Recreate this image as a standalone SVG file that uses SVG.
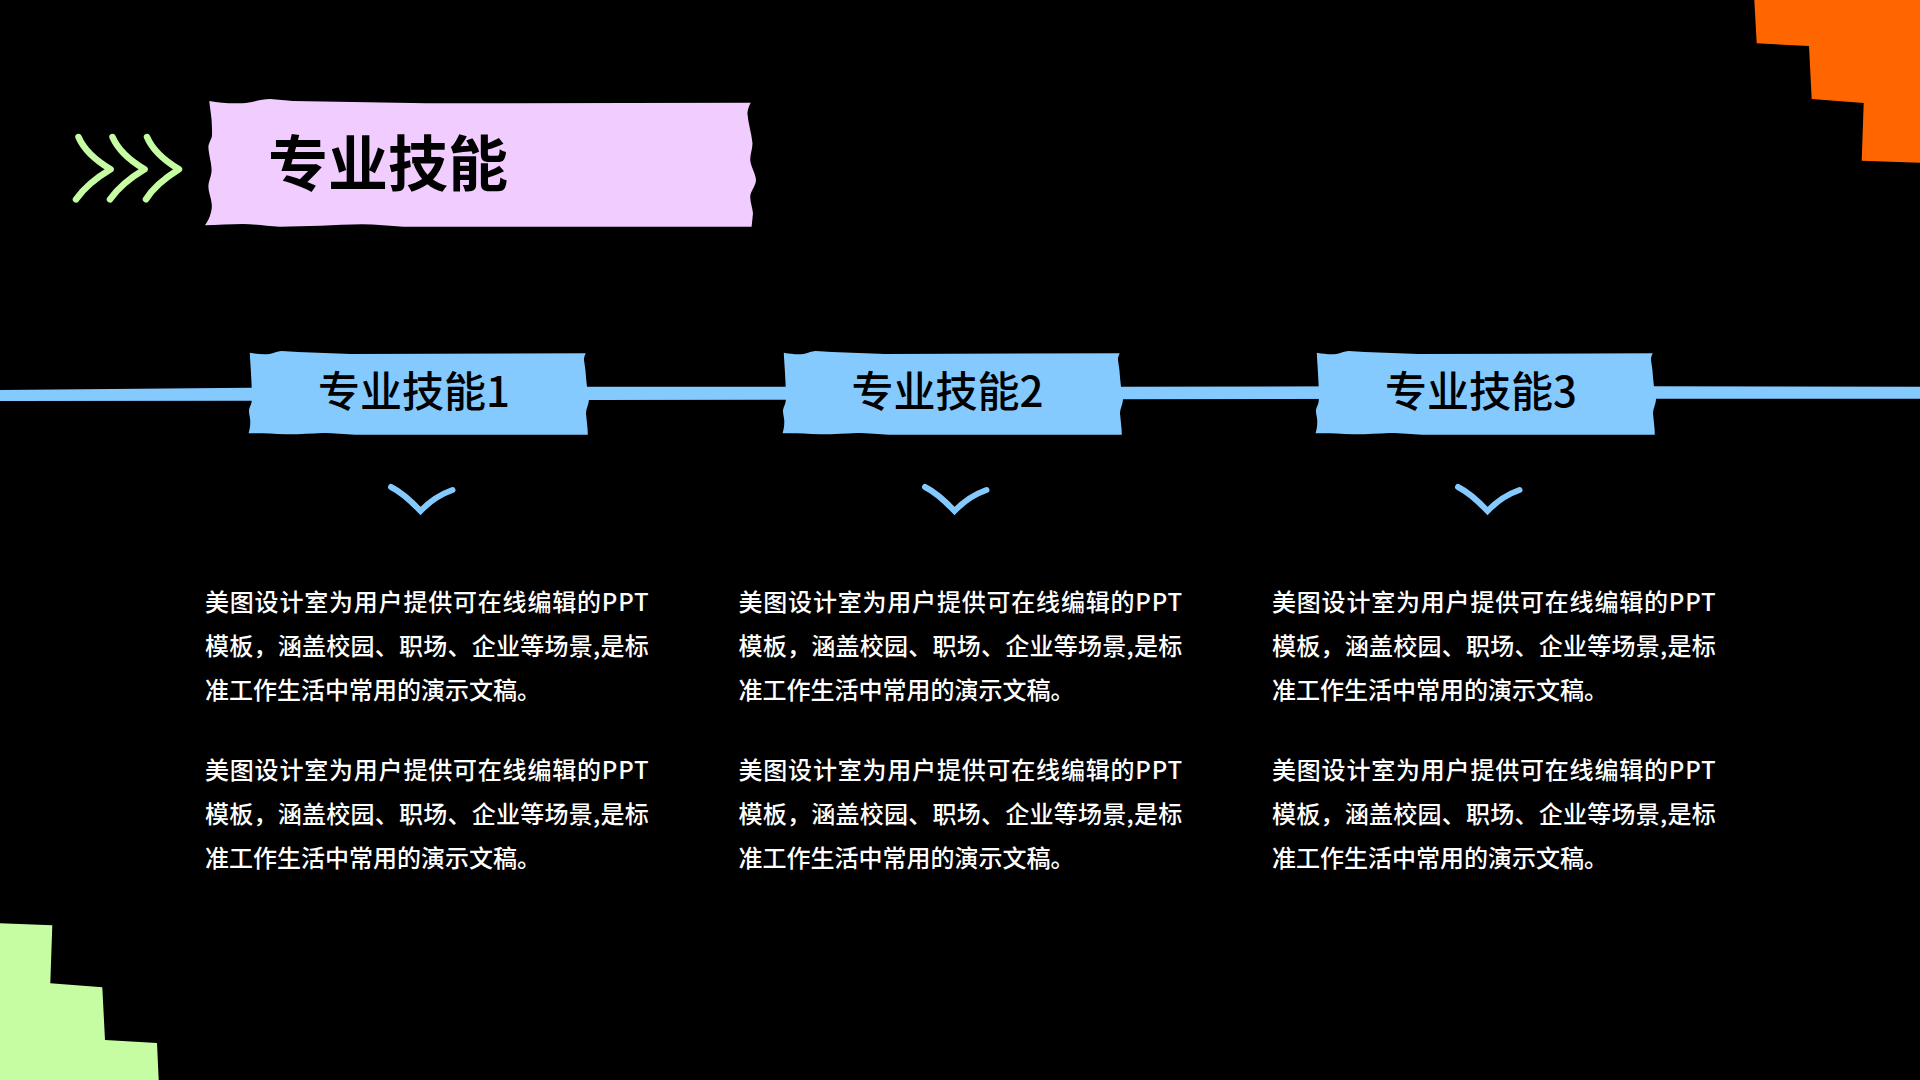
<svg xmlns="http://www.w3.org/2000/svg" width="1920" height="1080" viewBox="0 0 1920 1080">
<defs>
<style>
text{font-family:"Noto Sans CJK SC","Noto Sans",sans-serif}
.title{font-size:60px;font-weight:700;fill:#000}
.label{font-size:42px;font-weight:500;fill:#000}
.body{font-size:24px;font-weight:500;fill:#fff}
.l1{letter-spacing:.8px}
.l2{letter-spacing:.25px}
.chev{fill:none;stroke:#c6fda3;stroke-width:6.5;stroke-linecap:round;stroke-linejoin:round}
.down{fill:none;stroke:#84caff;stroke-width:6;stroke-linecap:round;stroke-linejoin:miter}
</style>
<path id="tag" fill="#84caff" d="M249.800 352.700C257 354 263 354.500 269.400 354C274 353 277 351.300 281.600 351L298 352L351 354L585.700 353.300C584.500 356 583.800 358 584 360C584.500 364 585.500 369 585.700 373.300C586 378 586.500 382 587 386.700C587.500 391 589 396 589 400C588.500 405 586 409 586 413.300C586.500 420 587.800 428 587.800 434.700L355 434.700C345 434.300 335 433 322.400 433C310 433.500 298 434.500 285.700 434.300C272 433.500 260 433 248.600 433.300C250 428 250.500 424 250.200 420C249.800 416 248.800 413 249 410C249.800 406 251.800 404 251.800 400C252 391 251.500 382 251 373.300C250.700 366 250 359 249.800 352.700Z"/>
</defs>
<rect id="background" width="1920" height="1080" fill="#000"/>
<g id="corner-orange"><polygon fill="#ff6600" points="1754.300,0 1756.700,43.300 1809,46 1811.700,99 1863.700,103 1861.700,160.700 1920,162.700 1920,0"/></g>
<g id="corner-green"><polygon fill="#c6fda3" points="0,923.300 52.300,925.300 50.300,983.300 102.300,987.300 105,1040 157,1043 158.700,1080 0,1080"/></g>
<g id="connectors"><path fill="#84caff" d="M0 390L250 387.700L590 386.700L1120 386.700L1450 386L1920 386.700L1920 398.700L1450 398.700L1120 399.300L590 400L250 400.700L0 401Z"/></g>
<g id="title-arrows">
<path class="chev" d="M78.500 137C84 150 95 160 110.600 169.300C96 178 84 188 76 199.300"/>
<path class="chev" d="M112.500 137C118 150 129 160 144.600 169.300C130 178 118 188 110 199.300"/>
<path class="chev" d="M147 137C152.500 150 163.500 160 179 169.300C165 178 153 188 146 199.300"/>
</g>
<g id="title">
<path fill="#f1ccff" d="M209.300 101C218 102.500 228 103.500 238 103.300C244 103.200 248 103 252 102C258 100.500 264 99 270.400 99L293 101L426.500 103.300L750.700 102.700C749 106 747.500 110 747.400 113.300C748 123 751.500 133 752.500 143.300C752.500 149 750.200 154 750.200 160C750.800 167 755.500 173 756 180C755.800 186 750.500 191 750.200 196.700C750.200 202 752.500 208 753 213.300L751.600 226.700L403.500 226.700C390 226 376 224.300 362 224.300C335 224.800 306 226.700 279.600 226.700C267 226 255 224 242.800 224C230 224.300 218 224.800 205 225.300C208 221 210 217 210.700 213.300C212 209 212 206 211.600 203.300C211 197 208.400 192 208.400 186.700C208.400 181 211.600 176 211.600 170C211.600 163 208.400 153 208.400 146.700C208.800 142 212 139 212 135C212.200 130 211.800 125 211.600 120C211 113 209.800 107 209.300 101Z"/>
<text class="title" x="268" y="186">专业技能</text>
</g>
<g id="skill-1">
<use href="#tag"/>
<text class="label" x="318" y="407">专业技能1</text>
<path class="down" d="M391 487C401 492 412 502 420.500 511C430 501 441 494 452.500 490"/>
<text class="body l1" x="205" y="611">美图设计室为用户提供可在线编辑的PPT</text>
<text class="body l2" x="205" y="655">模板，涵盖校园、职场、企业等场景,是标</text>
<text class="body" x="205" y="699">准工作生活中常用的演示文稿。</text>
<text class="body l1" x="205" y="779">美图设计室为用户提供可在线编辑的PPT</text>
<text class="body l2" x="205" y="823">模板，涵盖校园、职场、企业等场景,是标</text>
<text class="body" x="205" y="867">准工作生活中常用的演示文稿。</text>
</g>
<g id="skill-2" transform="translate(534,0)">
<use href="#tag"/>
<text class="label" x="317.500" y="407">专业技能2</text>
<path class="down" d="M391 487C401 492 412 502 420.500 511C430 501 441 494 452.500 490"/>
<text class="body l1" x="204.500" y="611">美图设计室为用户提供可在线编辑的PPT</text>
<text class="body l2" x="204.500" y="655">模板，涵盖校园、职场、企业等场景,是标</text>
<text class="body" x="204.500" y="699">准工作生活中常用的演示文稿。</text>
<text class="body l1" x="204.500" y="779">美图设计室为用户提供可在线编辑的PPT</text>
<text class="body l2" x="204.500" y="823">模板，涵盖校园、职场、企业等场景,是标</text>
<text class="body" x="204.500" y="867">准工作生活中常用的演示文稿。</text>
</g>
<g id="skill-3" transform="translate(1067,0)">
<use href="#tag"/>
<text class="label" x="318" y="407">专业技能3</text>
<path class="down" d="M391 487C401 492 412 502 420.500 511C430 501 441 494 452.500 490"/>
<text class="body l1" x="205" y="611">美图设计室为用户提供可在线编辑的PPT</text>
<text class="body l2" x="205" y="655">模板，涵盖校园、职场、企业等场景,是标</text>
<text class="body" x="205" y="699">准工作生活中常用的演示文稿。</text>
<text class="body l1" x="205" y="779">美图设计室为用户提供可在线编辑的PPT</text>
<text class="body l2" x="205" y="823">模板，涵盖校园、职场、企业等场景,是标</text>
<text class="body" x="205" y="867">准工作生活中常用的演示文稿。</text>
</g>
</svg>
